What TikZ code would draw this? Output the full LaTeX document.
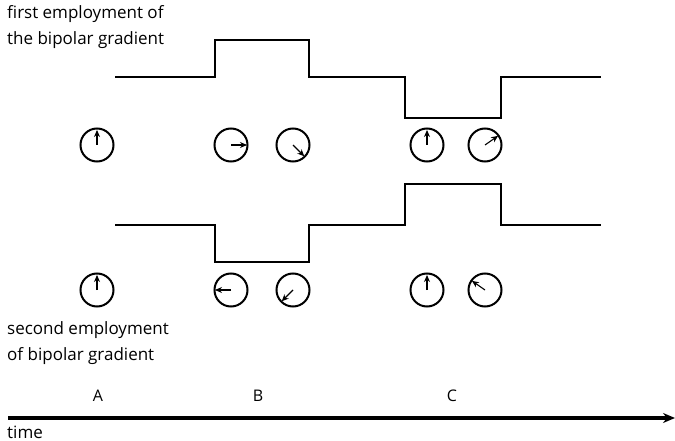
\documentclass[tikz,border=0pt]{standalone}
\usepackage{fontspec}
\setmainfont{Open Sans}
\usetikzlibrary{arrows.meta}
\begin{document}
\begin{tikzpicture}[x=1pt,y=1pt,
  wave/.style={line width=2.2pt, line join=miter},
  spin/.style={circle, draw, line width=2pt, minimum size=33pt, inner sep=0pt},
  vec/.style={line width=1.1pt, -{Stealth[length=7pt,width=6pt]}},
  lbl/.style={anchor=west, inner sep=0pt, font=\fontsize{17}{26}\selectfont},
  letter/.style={inner sep=0pt, font=\fontsize{16}{18}\selectfont}]
\useasboundingbox (0,0) rectangle (675,-441);
% labels
\node[lbl, align=left, anchor=north west] (t1) at (7,-5) {first employment of\\the bipolar gradient};
\node[lbl, align=left, anchor=north west] (t2) at (7,-321) {second employment\\of bipolar gradient};
% waveforms
\draw[wave] (115,-77) -- (215,-77) -- (215,-40) -- (309,-40) -- (309,-77) -- (405,-77) -- (405,-118) -- (501,-118) -- (501,-77) -- (601,-77);
\draw[wave] (115,-225) -- (215,-225) -- (215,-262) -- (309,-262) -- (309,-225) -- (405,-225) -- (405,-184) -- (501,-184) -- (501,-225) -- (601,-225);
% top row spins
\node[spin] (a1) at (97,-145) {};
\node[spin] (b1) at (231,-145) {};
\node[spin] (b2) at (293,-145) {};
\node[spin] (c1) at (427,-145) {};
\node[spin] (c2) at (485,-145) {};
\draw[vec] (a1.center) -- ++(90:15);
\draw[vec] (b1.center) -- ++(0:16);
\draw[vec] (b2.center) -- ++(-45:16);
\draw[vec] (c1.center) -- ++(90:15);
\draw[vec] (c2.center) -- ++(35:16);
% bottom row spins
\node[spin] (a3) at (97,-290) {};
\node[spin] (b3) at (231,-290) {};
\node[spin] (b4) at (293,-290) {};
\node[spin] (c3) at (427,-290) {};
\node[spin] (c4) at (485,-290) {};
\draw[vec] (a3.center) -- ++(90:15);
\draw[vec] (b3.center) -- ++(180:16);
\draw[vec] (b4.center) -- ++(225:16);
\draw[vec] (c3.center) -- ++(90:15);
\draw[vec] (c4.center) -- ++(145:16);
% time axis
\coordinate (ts) at (8,-418);
\coordinate (te) at (675,-418);
\draw[line width=3.5pt, -{Stealth[length=12pt,width=10pt]}] (ts) -- (te);
\node[letter] (A) at (98,-396) {A};
\node[letter] (B) at (258,-396) {B};
\node[letter] (C) at (452,-396) {C};
\node[lbl] (time) at (7,-432) {time};
\end{tikzpicture}
\end{document}
